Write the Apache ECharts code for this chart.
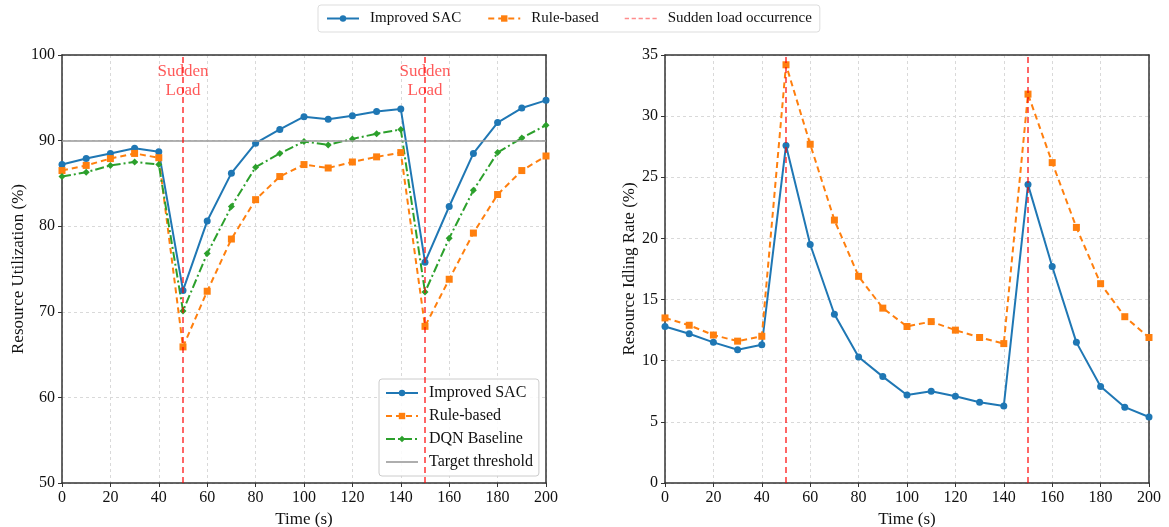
<!DOCTYPE html>
<html>
<head>
<meta charset="utf-8">
<script src="https://cdn.jsdelivr.net/npm/echarts@6/dist/echarts.min.js"></script>
<style>
  html, body { margin: 0; padding: 0; background: #fff; }
  #main { width: 1169px; height: 527px; }
</style>
</head>
<body>
<div id="main"></div>
<script>
// time steps (s)
const times = [0,10,20,30,40,50,60,70,80,90,100,110,120,130,140,150,160,170,180,190,200];

// left plot: resource utilization (%)
const utilSAC  = [87.2,87.9,88.5,89.1,88.7,72.5,80.6,86.2,89.7,91.3,92.8,92.5,92.9,93.4,93.7,75.8,82.3,88.5,92.1,93.8,94.7];
const utilRule = [86.5,87.1,87.9,88.5,88.0,65.9,72.4,78.5,83.1,85.8,87.2,86.8,87.5,88.1,88.6,68.3,73.8,79.2,83.7,86.5,88.2];
const utilDQN  = [85.8,86.3,87.1,87.5,87.2,70.1,76.8,82.3,86.9,88.5,89.9,89.5,90.2,90.8,91.3,72.3,78.6,84.2,88.6,90.3,91.8];
const targetThreshold = 90;

// right plot: resource idling rate (%)
const idleSAC  = [12.8,12.2,11.5,10.9,11.3,27.6,19.5,13.8,10.3,8.7,7.2,7.5,7.1,6.6,6.3,24.4,17.7,11.5,7.9,6.2,5.4];
const idleRule = [13.5,12.9,12.1,11.6,12.0,34.2,27.7,21.5,16.9,14.3,12.8,13.2,12.5,11.9,11.4,31.8,26.2,20.9,16.3,13.6,11.9];

// sudden load events
const loadTimes = [50, 150];

const BLUE = '#1f77b4', ORANGE = '#ff7f0e', GREEN = '#2ca02c';
const RED = 'rgba(255,0,0,0.6)';
const FONT = '"Liberation Serif", "DejaVu Serif", serif';

// plain legend icons for the reference-line entries
const ICON_SOLID = 'path://M0,0H30V1.6H0Z';
const ICON_DASH = 'path://M0,0h4v1.6h-4z M6.5,0h4v1.6h-4z M13,0h4v1.6h-4z M19.5,0h4v1.6h-4z M26,0h4v1.6h-4z';

const chart = echarts.init(document.getElementById('main'));

function pairs(vals) {
  return times.map((t, i) => [t, vals[i]]);
}

function xAxisCfg(gi) {
  return {
    type: 'value', gridIndex: gi, min: 0, max: 200, interval: 20,
    name: 'Time (s)', nameLocation: 'middle', nameGap: 27,
    nameTextStyle: { fontFamily: FONT, fontSize: 17, color: '#111' },
    axisLine: { show: true, onZero: false, lineStyle: { color: '#333', width: 1.5 } },
    axisTick: { show: true, length: 4, lineStyle: { color: '#333' } },
    axisLabel: { fontFamily: FONT, fontSize: 16, color: '#111', margin: 7 },
    splitLine: { show: true, lineStyle: { color: '#d9d9d9', type: [3, 3] } }
  };
}

function yAxisCfg(gi, name, min, max, interval, gap) {
  return {
    type: 'value', gridIndex: gi, min: min, max: max, interval: interval,
    name: name, nameLocation: 'middle', nameGap: gap,
    nameTextStyle: { fontFamily: FONT, fontSize: 17, color: '#111' },
    axisLine: { show: true, lineStyle: { color: '#333', width: 1.5 } },
    axisTick: { show: true, length: 4, lineStyle: { color: '#333' } },
    axisLabel: { fontFamily: FONT, fontSize: 16, color: '#111', margin: 7 },
    splitLine: { show: true, lineStyle: { color: '#d9d9d9', type: [3, 3] } }
  };
}

// top / right spines of the frame
function frameX(gi) {
  return {
    type: 'value', gridIndex: gi, position: 'top', min: 0, max: 200,
    axisLine: { show: true, onZero: false, lineStyle: { color: '#333', width: 1.5 } },
    axisTick: { show: false }, axisLabel: { show: false }, splitLine: { show: false }
  };
}
function frameY(gi, min, max) {
  return {
    type: 'value', gridIndex: gi, position: 'right', min: min, max: max,
    axisLine: { show: true, onZero: false, lineStyle: { color: '#333', width: 1.5 } },
    axisTick: { show: false }, axisLabel: { show: false }, splitLine: { show: false }
  };
}

function lineSeries(name, vals, gi, color, symbol, dash, size) {
  return {
    name: name, type: 'line', xAxisIndex: gi, yAxisIndex: gi,
    data: pairs(vals), symbol: symbol, symbolSize: size, showSymbol: true,
    lineStyle: { color: color, width: 2, type: dash },
    itemStyle: { color: color },
    z: 3
  };
}

function loadSeries(gi, withText) {
  const s = {
    name: 'Sudden load occurrence', type: 'line', xAxisIndex: gi, yAxisIndex: gi,
    data: [], symbol: 'none',
    lineStyle: { color: RED, width: 1.5, type: [4, 3] },
    itemStyle: { color: 'rgba(255,0,0,0.45)' },
    markLine: {
      silent: true, symbol: ['none', 'none'],
      label: { show: false },
      lineStyle: { color: RED, width: 2, type: [6, 4] },
      data: loadTimes.map(t => ({ xAxis: t }))
    },
    z: 2
  };
  if (withText) {
    s.markPoint = {
      silent: true, symbol: 'rect', symbolSize: 1,
      itemStyle: { color: 'rgba(0,0,0,0)' },
      label: {
        show: true, position: 'inside', formatter: 'Sudden\nLoad',
        fontFamily: FONT, fontSize: 17, lineHeight: 18.5, color: 'rgba(255,0,0,0.65)'
      },
      data: loadTimes.map(t => ({ coord: [t, 96.95] }))
    };
  }
  return s;
}

const legendText = { fontFamily: FONT, fontSize: 16, color: '#111', padding: [0, 0, 0, 6] };

const option = {
  animation: false,
  backgroundColor: '#fff',
  textStyle: { fontFamily: FONT },
  grid: [
    { left: 62, top: 55, width: 484, height: 428, outerBoundsMode: 'none', containLabel: false },
    { left: 665, top: 55, width: 484, height: 428, outerBoundsMode: 'none', containLabel: false }
  ],
  legend: [
    {
      data: ['Improved SAC', 'Rule-based', { name: 'Sudden load occurrence', icon: ICON_DASH }],
      left: 318, top: 5, itemGap: 26, itemWidth: 32, itemHeight: 8,
      padding: [6, 8], borderColor: '#ddd', borderWidth: 1, borderRadius: 3,
      textStyle: Object.assign({}, legendText, { fontSize: 15 })
    },
    {
      data: ['Improved SAC', 'Rule-based', 'DQN Baseline', { name: 'Target threshold', icon: ICON_SOLID }],
      orient: 'vertical', left: 379, top: 379, itemGap: 7, itemWidth: 32, itemHeight: 8,
      padding: [6, 6], borderColor: '#ccc', borderWidth: 1, borderRadius: 3,
      backgroundColor: 'rgba(255,255,255,0.85)',
      textStyle: legendText
    }
  ],
  xAxis: [xAxisCfg(0), xAxisCfg(1), frameX(0), frameX(1)],
  yAxis: [
    yAxisCfg(0, 'Resource Utilization (%)', 50, 100, 10, 32),
    yAxisCfg(1, 'Resource Idling Rate (%)', 0, 35, 5, 22),
    frameY(0, 50, 100),
    frameY(1, 0, 35)
  ],
  series: [
    {
      name: 'Target threshold', type: 'line', xAxisIndex: 0, yAxisIndex: 0,
      data: [], symbol: 'none',
      lineStyle: { color: '#999', width: 1.5 },
      itemStyle: { color: '#a0a0a0' },
      markLine: {
        silent: true, symbol: ['none', 'none'], label: { show: false },
        lineStyle: { color: '#999', width: 1.5, type: 'solid' },
        data: [{ yAxis: targetThreshold }]
      },
      z: 1
    },
    loadSeries(0, true),
    lineSeries('Improved SAC', utilSAC, 0, BLUE, 'circle', 'solid', 7),
    lineSeries('Rule-based', utilRule, 0, ORANGE, 'rect', [6, 4], 7),
    lineSeries('DQN Baseline', utilDQN, 0, GREEN, 'diamond', [9, 3, 2, 3], 7),
    loadSeries(1, false),
    lineSeries('Improved SAC', idleSAC, 1, BLUE, 'circle', 'solid', 7),
    lineSeries('Rule-based', idleRule, 1, ORANGE, 'rect', [6, 4], 7)
  ]
};

chart.setOption(option);
</script>
</body>
</html>
